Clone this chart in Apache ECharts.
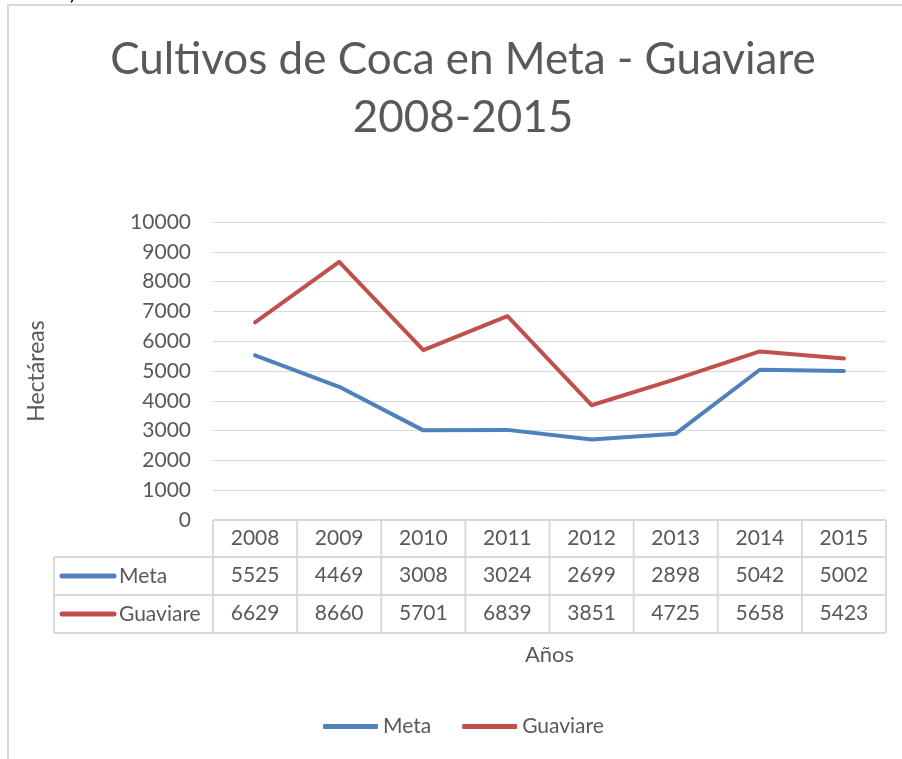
<!DOCTYPE html>
<html><head><meta charset="utf-8">
<script src="https://cdn.jsdelivr.net/npm/echarts@6/dist/echarts.min.js"></script>
<style>html,body{margin:0;padding:0;background:#fff}#c{width:902px;height:759px}</style>
</head><body><div id="c"></div>
<script>
const years = ['2008','2009','2010','2011','2012','2013','2014','2015'];
const metaValues = [5525, 4469, 3008, 3024, 2699, 2898, 5042, 5002];
const guaviareValues = [6629, 8660, 5701, 6839, 3851, 4725, 5658, 5423];
const seriesNames = ['Meta', 'Guaviare'];
const seriesColors = ['#4F81BD', '#C0504D'];
const titleText = 'Cultivos de Coca en Meta - Guaviare\n2008-2015';
const yTicks = [0, 10000, 1000]; // min, max, interval

const FONT = 'Lato';
const TXT = '#595959';
const LINE = '#D9D9D9';
const FS = 21;
const gl = 213, gr = 886, gt = 222, gb = 520;
const rows = [520, 557, 595, 633];
const tableLeft = 54;
const colW = (gr - gl) / years.length;

const chart = echarts.init(document.getElementById('c'), null, {renderer: 'canvas'});

const graphics = [];
graphics.push({type: 'rect', shape: {x: 8, y: 5, width: 1000, height: 1000}, style: {fill: 'none', stroke: LINE, lineWidth: 2}, silent: true});
graphics.push({type: 'text', style: {x: 70, y: -16, text: ')', font: '20px ' + FONT, fill: '#000'}});
graphics.push({type: 'text', style: {x: 463, y: 89, text: titleText, font: '44px ' + FONT, fill: TXT, align: 'center', verticalAlign: 'middle', lineHeight: 58}});
graphics.push({type: 'line', shape: {x1: gl, y1: rows[0], x2: gr, y2: rows[0]}, style: {stroke: LINE, lineWidth: 2}});
for (let i = 1; i < rows.length; i++) {
  graphics.push({type: 'line', shape: {x1: tableLeft, y1: rows[i], x2: gr, y2: rows[i]}, style: {stroke: LINE, lineWidth: 2}});
}
for (let j = 0; j <= years.length; j++) {
  const x = gl + colW * j;
  graphics.push({type: 'line', shape: {x1: x, y1: rows[0], x2: x, y2: rows[3]}, style: {stroke: LINE, lineWidth: 2}});
}
graphics.push({type: 'line', shape: {x1: tableLeft, y1: rows[1], x2: tableLeft, y2: rows[3]}, style: {stroke: LINE, lineWidth: 2}});
seriesNames.forEach((n, i) => {
  const cy = (rows[i + 1] + rows[i + 2]) / 2;
  graphics.push({type: 'line', shape: {x1: 62, y1: cy, x2: 114, y2: cy}, style: {stroke: seriesColors[i], lineWidth: 5, lineCap: 'round'}});
  graphics.push({type: 'text', style: {x: 119, y: cy, text: n, font: FS + 'px ' + FONT, fill: TXT, verticalAlign: 'middle'}});
});

const labelStyle = {color: TXT, fontFamily: FONT, fontSize: FS};

const option = {
  backgroundColor: '#fff',
  animation: false,
  grid: {left: gl, right: 902 - gr, top: gt, bottom: 759 - gb, containLabel: false},
  legend: {
    data: seriesNames, left: 323, top: 716, padding: 0, itemWidth: 55, itemHeight: 5, itemGap: 31,
    icon: 'roundRect',
    textStyle: {color: TXT, fontFamily: FONT, fontSize: FS}
  },
  xAxis: [
    {type: 'category', data: years, boundaryGap: true, position: 'bottom',
     axisLine: {show: false}, axisTick: {show: false},
     axisLabel: Object.assign({margin: 8, interval: 0}, labelStyle),
     name: 'Años', nameLocation: 'middle', nameGap: 124,
     nameTextStyle: {color: TXT, fontFamily: FONT, fontSize: 22}},
    {type: 'category', data: metaValues.map(String), position: 'bottom', offset: 37,
     axisLine: {show: false}, axisTick: {show: false}, splitLine: {show: false},
     axisLabel: Object.assign({margin: 8, interval: 0}, labelStyle)},
    {type: 'category', data: guaviareValues.map(String), position: 'bottom', offset: 75,
     axisLine: {show: false}, axisTick: {show: false}, splitLine: {show: false},
     axisLabel: Object.assign({margin: 8, interval: 0}, labelStyle)}
  ],
  yAxis: {
    type: 'value', min: yTicks[0], max: yTicks[1], interval: yTicks[2],
    axisLine: {show: false}, axisTick: {show: false},
    splitLine: {lineStyle: {color: LINE, width: 1}},
    axisLabel: Object.assign({margin: 22, formatter: v => String(v)}, labelStyle),
    name: 'Hectáreas', nameLocation: 'middle', nameGap: 165, nameRotate: 90,
    nameTextStyle: {color: TXT, fontFamily: FONT, fontSize: 23}
  },
  series: [
    {name: seriesNames[0], type: 'line', data: metaValues, xAxisIndex: 0, symbol: 'none',
     lineStyle: {color: seriesColors[0], width: 4, cap: 'round', join: 'round'}, itemStyle: {color: seriesColors[0]}},
    {name: seriesNames[1], type: 'line', data: guaviareValues, xAxisIndex: 0, symbol: 'none',
     lineStyle: {color: seriesColors[1], width: 4, cap: 'round', join: 'round'}, itemStyle: {color: seriesColors[1]}}
  ],
  graphic: graphics
};
chart.setOption(option);
</script></body></html>
